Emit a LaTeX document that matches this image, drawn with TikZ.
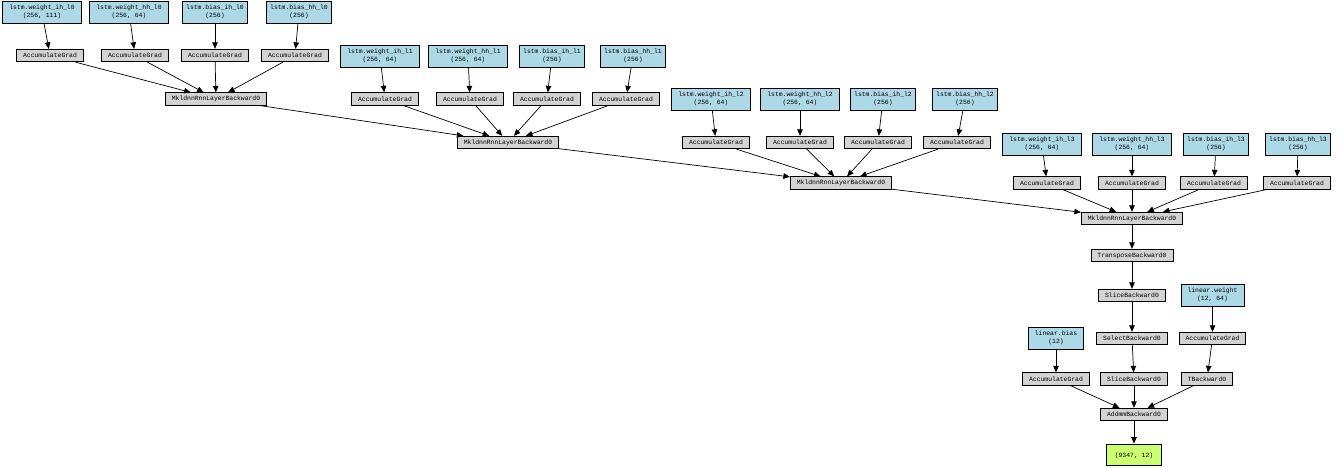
\documentclass[tikz,border=0pt]{standalone}
\usepackage{fontspec}
\newfontfamily\gvmono{Liberation Mono}
\usepackage{tikz}
\usetikzlibrary{shapes, arrows.meta, positioning}

\definecolor{paramblue}{HTML}{ADD8E6}
\definecolor{gradgray}{HTML}{D3D3D3}
\definecolor{outgreen}{HTML}{CAFF70}

\begin{document}
\begin{tikzpicture}[
			x=1pt, y=-1pt,
			every node/.style={font=\gvmono\fontsize{6.4}{7.6}\selectfont},
			param/.style={rectangle, draw, line width=0.8pt, fill=paramblue, minimum height=22pt, inner xsep=6.5pt, inner ysep=0pt, align=center},
			biasp/.style={param, inner xsep=3.5pt},
			grad/.style={rectangle, draw, line width=0.8pt, fill=gradgray, minimum height=12.5pt, inner xsep=6.5pt, inner ysep=0pt},
			outbox/.style={rectangle, draw, line width=0.8pt, fill=outgreen, minimum height=21pt, minimum width=55pt, inner ysep=0pt, align=center},
			arr/.style={-{Triangle[length=6.5pt, width=5.5pt]}, line width=0.7pt}
			]
			\useasboundingbox (0,0) rectangle (1339,468);
			% layer 0
			\node[param] (wih0) at (42,12) {lstm.weight\_ih\_l0\\(256, 111)};
			\node[param] (whh0) at (129,12) {lstm.weight\_hh\_l0\\(256, 64)};
			\node[biasp] (bih0) at (215,12) {lstm.bias\_ih\_l0\\(256)};
			\node[biasp] (bhh0) at (299,12) {lstm.bias\_hh\_l0\\(256)};
			\node[grad] (gwih0) at (50,55.5) {AccumulateGrad};
			\node[grad] (gwhh0) at (135,55.5) {AccumulateGrad};
			\node[grad] (gbih0) at (215,55.5) {AccumulateGrad};
			\node[grad] (gbhh0) at (295,55.5) {AccumulateGrad};
			\node[grad] (mkl0) at (216,99) {MkldnnRnnLayerBackward0};
			% layer 1
			\node[param] (wih1) at (380,56) {lstm.weight\_ih\_l1\\(256, 64)};
			\node[param] (whh1) at (468,56) {lstm.weight\_hh\_l1\\(256, 64)};
			\node[biasp] (bih1) at (552,56) {lstm.bias\_ih\_l1\\(256)};
			\node[biasp] (bhh1) at (633,56) {lstm.bias\_hh\_l1\\(256)};
			\node[grad] (gwih1) at (385,99) {AccumulateGrad};
			\node[grad] (gwhh1) at (470,99) {AccumulateGrad};
			\node[grad] (gbih1) at (547,99) {AccumulateGrad};
			\node[grad] (gbhh1) at (626,99) {AccumulateGrad};
			\node[grad] (mkl1) at (508,142.5) {MkldnnRnnLayerBackward0};
			% layer 2
			\node[param] (wih2) at (711,99) {lstm.weight\_ih\_l2\\(256, 64)};
			\node[param] (whh2) at (800,99) {lstm.weight\_hh\_l2\\(256, 64)};
			\node[biasp] (bih2) at (883,99) {lstm.bias\_ih\_l2\\(256)};
			\node[biasp] (bhh2) at (965,99) {lstm.bias\_hh\_l2\\(256)};
			\node[grad] (gwih2) at (716,142.5) {AccumulateGrad};
			\node[grad] (gwhh2) at (800,142.5) {AccumulateGrad};
			\node[grad] (gbih2) at (878,142.5) {AccumulateGrad};
			\node[grad] (gbhh2) at (957,142.5) {AccumulateGrad};
			\node[grad] (mkl2) at (841,183) {MkldnnRnnLayerBackward0};
			% layer 3
			\node[param] (wih3) at (1042,144) {lstm.weight\_ih\_l3\\(256, 64)};
			\node[param] (whh3) at (1132,144) {lstm.weight\_hh\_l3\\(256, 64)};
			\node[biasp] (bih3) at (1216,144) {lstm.bias\_ih\_l3\\(256)};
			\node[biasp] (bhh3) at (1298,144) {lstm.bias\_hh\_l3\\(256)};
			\node[grad] (gwih3) at (1047,183) {AccumulateGrad};
			\node[grad] (gwhh3) at (1132,183) {AccumulateGrad};
			\node[grad] (gbih3) at (1214,183) {AccumulateGrad};
			\node[grad] (gbhh3) at (1297,183) {AccumulateGrad};
			\node[grad] (mkl3) at (1132,218.5) {MkldnnRnnLayerBackward0};
			% linear head
			\node[grad] (transp) at (1132,255.5) {TransposeBackward0};
			\node[grad] (slice) at (1132,295.5) {SliceBackward0};
			\node[param] (linw) at (1212.5,295) {linear.weight\\(12, 64)};
			\node[grad] (select) at (1132,338.5) {SelectBackward0};
			\node[grad] (glinw) at (1212.5,338.5) {AccumulateGrad};
			\node[param] (linb) at (1056,338) {linear.bias\\(12)};
			\node[grad] (glinb) at (1056,379) {AccumulateGrad};
			\node[grad] (slicetwo) at (1134,379) {SliceBackward0};
			\node[grad] (tback) at (1207,379) {TBackward0};
			\node[grad] (addmm) at (1134,414.5) {AddmmBackward0};
			\node[outbox] (out) at (1134,454.5) {\mbox{}\\(9347, 12)};
			% edges
			\draw[arr] (wih0) -- (gwih0);
			\draw[arr] (whh0) -- (gwhh0);
			\draw[arr] (bih0) -- (gbih0);
			\draw[arr] (bhh0) -- (gbhh0);
			\draw[arr] (gwih0) -- (mkl0);
			\draw[arr] (gwhh0) -- (mkl0);
			\draw[arr] (gbih0) -- (mkl0);
			\draw[arr] (gbhh0) -- (mkl0);
			\draw[arr] (wih1) -- (gwih1);
			\draw[arr] (whh1) -- (gwhh1);
			\draw[arr] (bih1) -- (gbih1);
			\draw[arr] (bhh1) -- (gbhh1);
			\draw[arr] (mkl0) -- (mkl1);
			\draw[arr] (gwih1) -- (mkl1);
			\draw[arr] (gwhh1) -- (mkl1);
			\draw[arr] (gbih1) -- (mkl1);
			\draw[arr] (gbhh1) -- (mkl1);
			\draw[arr] (wih2) -- (gwih2);
			\draw[arr] (whh2) -- (gwhh2);
			\draw[arr] (bih2) -- (gbih2);
			\draw[arr] (bhh2) -- (gbhh2);
			\draw[arr] (mkl1) -- (mkl2);
			\draw[arr] (gwih2) -- (mkl2);
			\draw[arr] (gwhh2) -- (mkl2);
			\draw[arr] (gbih2) -- (mkl2);
			\draw[arr] (gbhh2) -- (mkl2);
			\draw[arr] (wih3) -- (gwih3);
			\draw[arr] (whh3) -- (gwhh3);
			\draw[arr] (bih3) -- (gbih3);
			\draw[arr] (bhh3) -- (gbhh3);
			\draw[arr] (mkl2) -- (mkl3);
			\draw[arr] (gwih3) -- (mkl3);
			\draw[arr] (gwhh3) -- (mkl3);
			\draw[arr] (gbih3) -- (mkl3);
			\draw[arr] (gbhh3) -- (mkl3);
			\draw[arr] (mkl3) -- (transp);
			\draw[arr] (transp) -- (slice);
			\draw[arr] (slice) -- (select);
			\draw[arr] (select) -- (slicetwo);
			\draw[arr] (linw) -- (glinw);
			\draw[arr] (glinw) -- (tback);
			\draw[arr] (linb) -- (glinb);
			\draw[arr] (glinb) -- (addmm);
			\draw[arr] (slicetwo) -- (addmm);
			\draw[arr] (tback) -- (addmm);
			\draw[arr] (addmm) -- (out);
		\end{tikzpicture}
\end{document}
